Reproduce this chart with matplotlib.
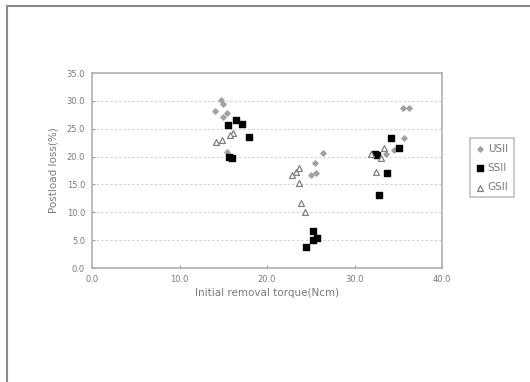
import matplotlib.pyplot as plt
from matplotlib.lines import Line2D

# Values
us_torque = [14.7, 15.0, 14.0, 15.4, 15.0, 15.4, 26.4, 25.5, 25.0, 25.6, 35.5, 36.2, 35.7, 34.5, 33.6]
us_loss = [30.1, 29.4, 28.2, 27.8, 27.1, 20.8, 20.7, 18.9, 16.7, 17.0, 28.7, 28.7, 23.4, 21.1, 20.5]

ss_torque = [16.5, 17.1, 15.5, 17.9, 15.7, 16.0, 25.2, 25.7, 25.2, 24.5, 34.2, 35.1, 32.3, 32.6, 33.7, 32.8]
ss_loss = [26.6, 25.9, 25.6, 23.5, 20.0, 19.7, 6.7, 5.3, 5.0, 3.7, 23.4, 21.5, 20.5, 20.2, 17.0, 13.1]

gs_torque = [16.1, 14.2, 14.8, 15.8, 23.3, 22.9, 23.6, 23.9, 24.3, 23.7, 31.9, 32.5, 33.4, 33.0]
gs_loss = [24.2, 22.6, 22.9, 23.9, 17.3, 16.7, 15.2, 11.6, 10.1, 18.0, 20.5, 17.3, 21.5, 19.8]

x_ticks = [0, 10, 20, 30, 40]
y_ticks = [0, 5, 10, 15, 20, 25, 30, 35]

txt = "#7a7a7a"
edge = "#9a9a9a"

fig = plt.figure(figsize=(5.3, 3.82), dpi=100)
ax = fig.add_axes([0.1736, 0.2984, 0.6604, 0.5105])

ax.scatter(us_torque, us_loss, marker="D", s=7, color="#a0a0a0", label="USII", zorder=3)
ax.scatter(ss_torque, ss_loss, marker="s", s=18, color="black", label="SSII", zorder=3)
ax.scatter(gs_torque, gs_loss, marker="^", s=18, facecolor="white", edgecolor="#808080",
           linewidth=0.9, label="GSII", zorder=3)

ax.set_xlim(0, 40)
ax.set_ylim(0, 35)
ax.set_xticks(x_ticks)
ax.set_yticks(y_ticks)
ax.set_xticklabels([f"{v:.1f}" for v in x_ticks])
ax.set_yticklabels([f"{v:.1f}" for v in y_ticks])
ax.tick_params(direction="in", length=2, color=edge, labelsize=6, labelcolor=txt, pad=5)
ax.yaxis.grid(True, linestyle=(0, (2, 2)), color="#d0d0d0", linewidth=0.8)
ax.set_axisbelow(True)
for s in ax.spines.values():
    s.set_color("#b0b0b0")
    s.set_linewidth(1.2)

ax.set_xlabel("Initial removal torque(Ncm)", fontsize=7.5, color=txt, labelpad=3)
ax.set_ylabel("Postload loss(%)", fontsize=7.5, color=txt, labelpad=6)

leg = ax.legend(loc="upper left", bbox_to_anchor=(1.08, 0.665), fontsize=7.5, frameon=True,
                fancybox=False, handletextpad=0.3, borderpad=0.5, labelspacing=0.9,
                handlelength=0.9, borderaxespad=0)
leg.get_frame().set_edgecolor("#b0b0b0")
leg.get_frame().set_linewidth(1.2)
for t in leg.get_texts():
    t.set_color(txt)

# scan frame on the top and left edges
fig.add_artist(Line2D([0.013, 1.0], [0.984, 0.984], color="#8a8a8a", linewidth=1.5))
fig.add_artist(Line2D([0.013, 0.013], [0.0, 0.984], color="#8a8a8a", linewidth=1.5))

fig.savefig("out.png", dpi=100)
